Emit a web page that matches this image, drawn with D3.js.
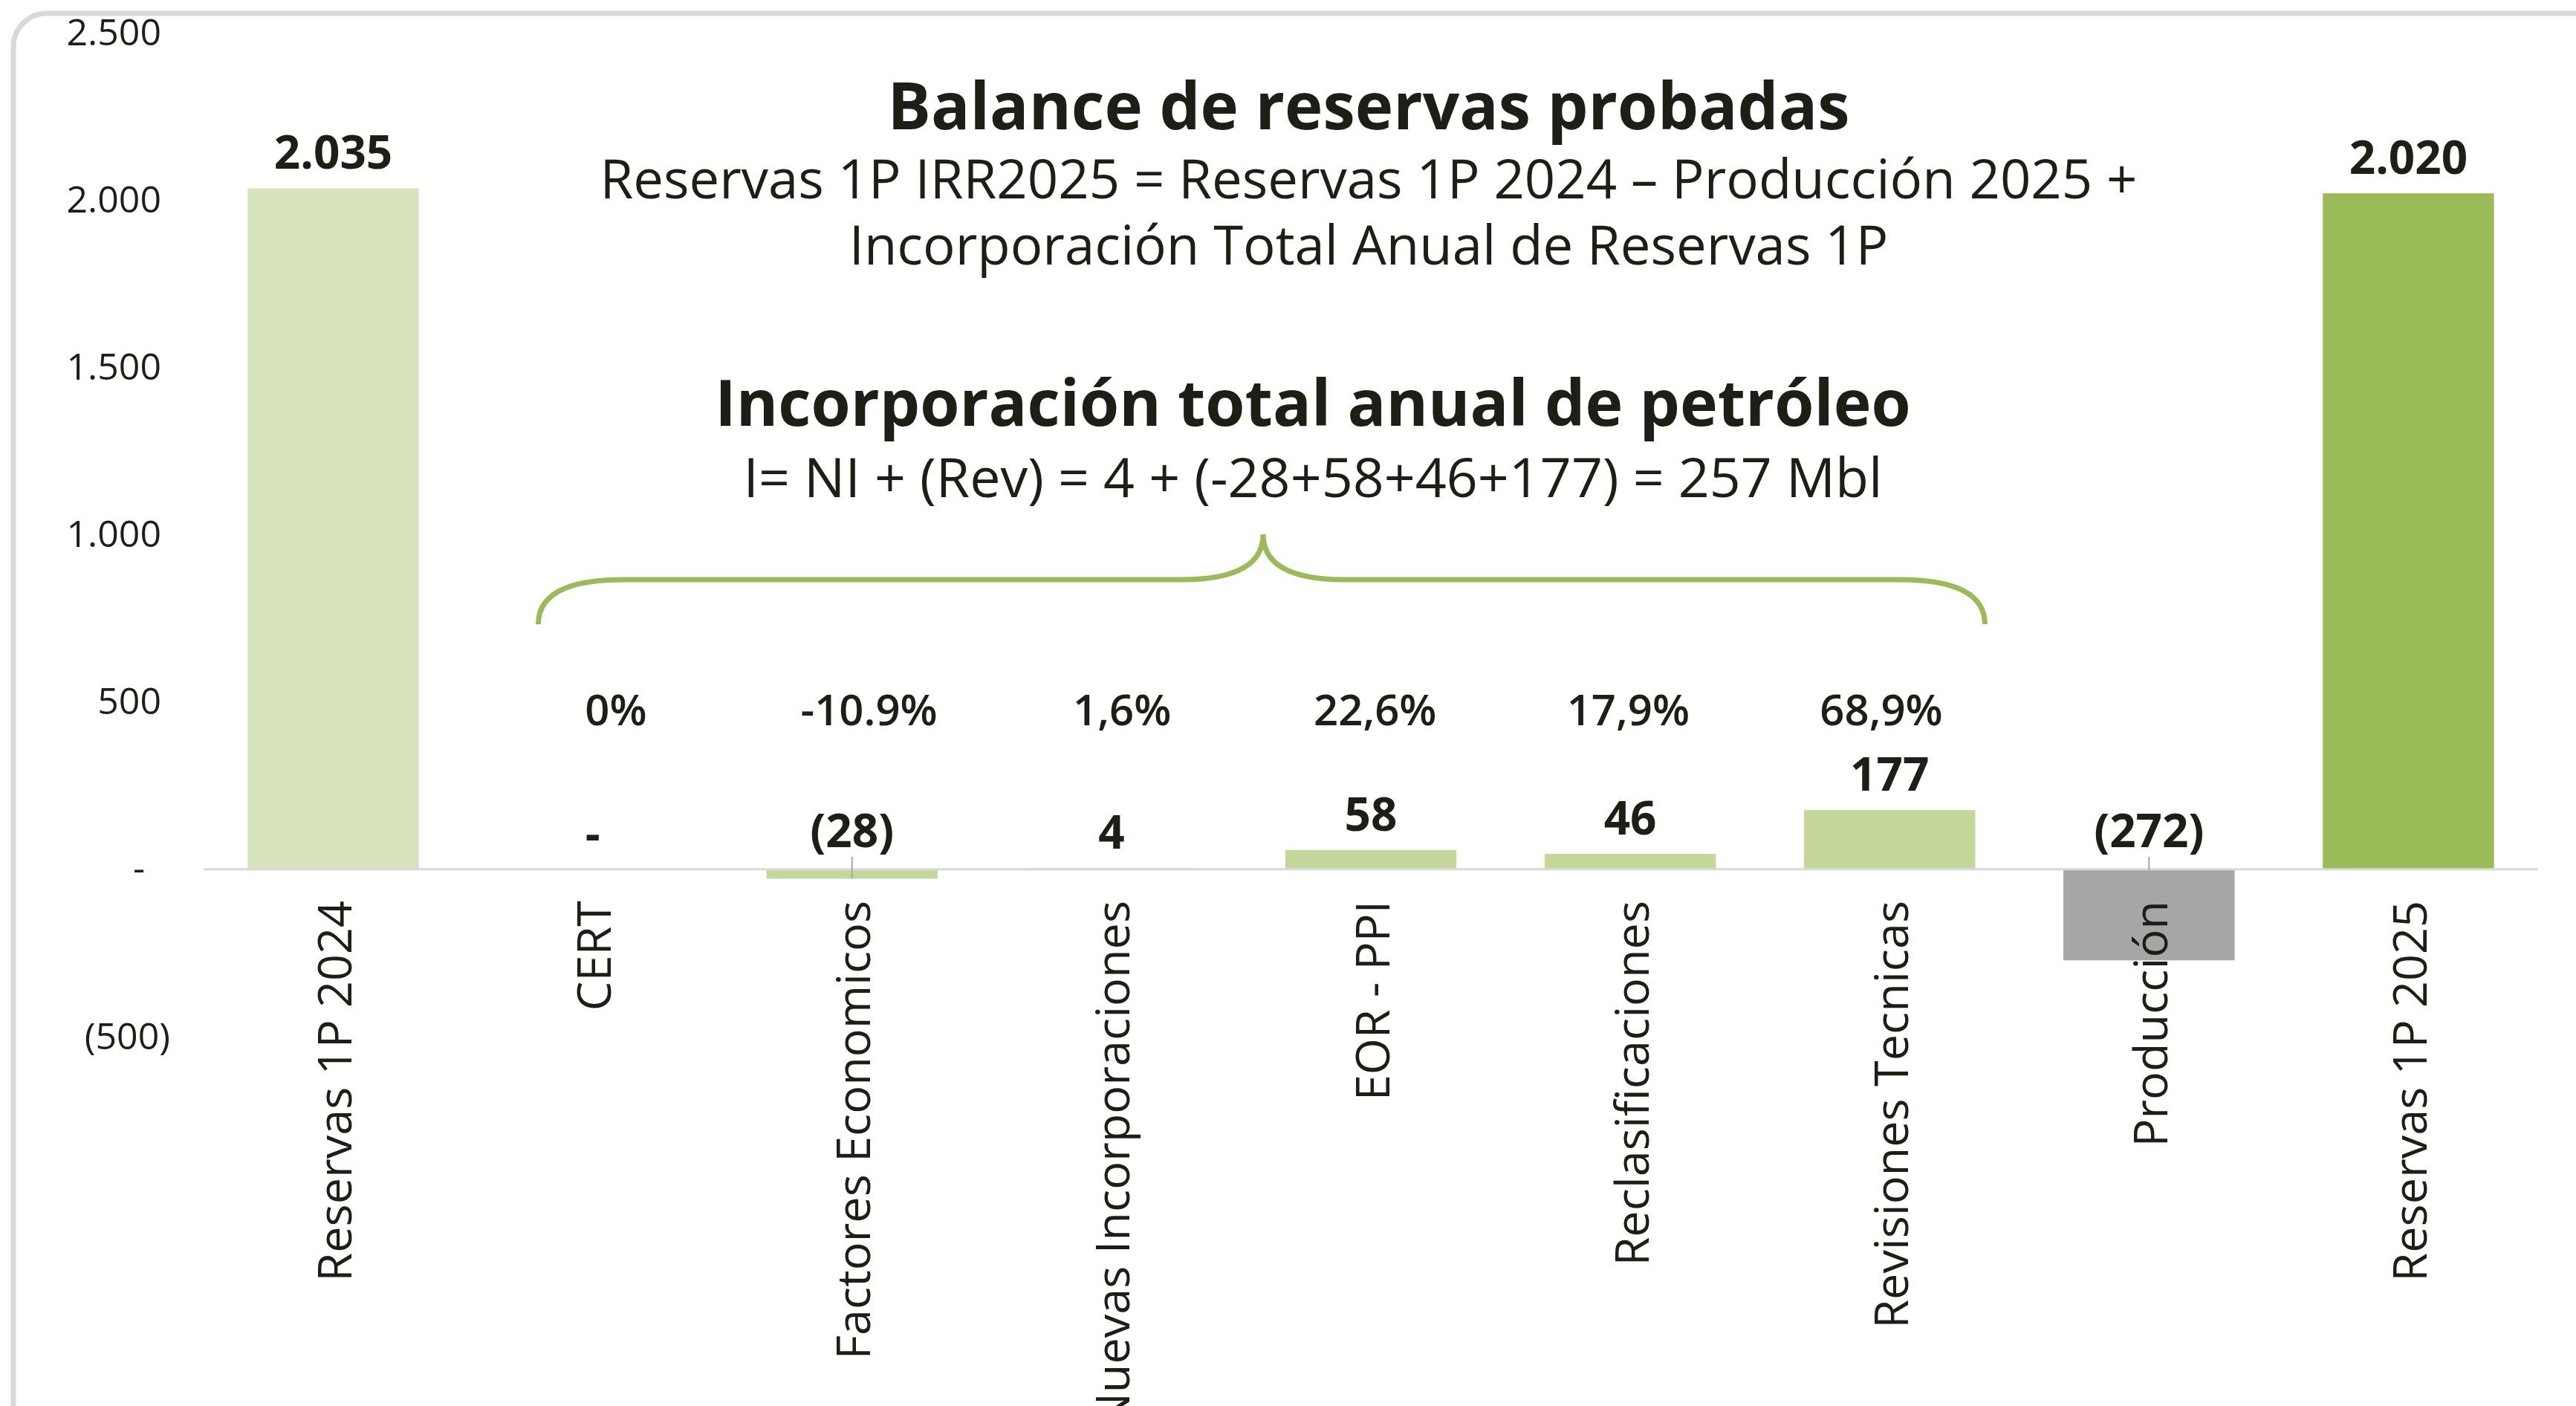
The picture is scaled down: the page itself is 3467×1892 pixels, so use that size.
<!DOCTYPE html>
<html>
<head>
<meta charset="utf-8">
<script src="https://cdn.jsdelivr.net/npm/d3@7"></script>
<style>
  body { margin: 0; background: #fff; }
  text { font-family: "Open Sans", "DejaVu Sans", sans-serif; fill: #1e1e16; }
</style>
</head>
<body>
<script>
var w = 3467;
var h = 1892;

// chart data
var categories = ["Reservas 1P 2024", "CERT", "Factores Economicos", "Nuevas Incorporaciones",
                  "EOR - PPI", "Reclasificaciones", "Revisiones Tecnicas", "Producción", "Reservas 1P 2025"];
var values = [2035, 0, -28, 4, 58, 46, 177, -272, 2020];
var barColors = ["#d7e4bd", "#c4d79b", "#c4d79b", "#c4d79b", "#c4d79b", "#c4d79b", "#c4d79b", "#a6a6a6", "#9bbb59"];
var shareLabels = ["0%", "-10.9%", "1,6%", "22,6%", "17,9%", "68,9%"];
var yTicks = [-500, 0, 500, 1000, 1500, 2000, 2500];

var title = "Balance de reservas probadas";
var subtitle = ["Reservas 1P IRR2025 = Reservas 1P 2024 \u2013 Producción 2025 +",
                "Incorporación Total Anual de Reservas 1P"];
var title2 = "Incorporación total anual de petróleo";
var formula = "I= NI + (Rev) = 4 + (-28+58+46+177) = 257 Mbl";

var svg = d3.select("body")
    .append("svg")
    .attr("width", w)
    .attr("height", h);

// outer frame, runs off the right and bottom
svg.append("rect")
    .attr("x", 18).attr("y", 18)
    .attr("width", w + 100).attr("height", h + 100)
    .attr("rx", 45)
    .attr("fill", "none")
    .attr("stroke", "#d9d9d9")
    .attr("stroke-width", 7);

var x = d3.scaleBand()
    .domain(categories)
    .range([274, 3416])
    .paddingInner(0.34)
    .paddingOuter(0.17);

var y = d3.scaleLinear()
    .domain([-500, 2500])
    .range([1395, 44]);

// the percentage row sits in its own text box, evenly spaced
var xs = d3.scalePoint()
    .domain(shareLabels)
    .range([829, 2532]);

var loc = d3.formatLocale({decimal: ",", thousands: ".", grouping: [3], currency: ["", ""]});
var thou = loc.format(",d");

var fmt = function(v) {
    if (v === 0) { return "-"; }
    if (v < 0) { return "(" + thou(-v) + ")"; }
    return thou(v);
}

// y axis, excel accounting style labels
var yAxis = svg.append("g")
    .attr("transform", "translate(217,0)")
    .call(d3.axisLeft(y).tickValues(yTicks).tickSize(0).tickPadding(0).tickFormat(fmt));
yAxis.select(".domain").remove();
yAxis.selectAll("text")
    .attr("font-size", 50)
    .attr("font-family", "Open Sans")
    .attr("fill", "#1e1e16")
    .attr("dx", function(d) { return d < 0 ? 12 : (d === 0 ? -22 : 0); });

// bars
svg.selectAll(".bar")
    .data(values)
    .enter()
    .append("rect")
    .attr("class", "bar")
    .attr("x", function(d, i) { return x(categories[i]); })
    .attr("width", x.bandwidth())
    .attr("y", function(d) { return y(Math.max(d, 0)); })
    .attr("height", function(d) { return Math.abs(y(d) - y(0)); })
    .attr("fill", function(d, i) { return barColors[i]; });

// zero line
svg.append("line")
    .attr("x1", x.range()[0]).attr("x2", x.range()[1])
    .attr("y1", y(0)).attr("y2", y(0))
    .attr("stroke", "#d9d9d9")
    .attr("stroke-width", 3);

// leader lines for the negative labels
svg.selectAll(".leader")
    .data(values.filter(function(d) { return d < 0; }))
    .enter()
    .append("line")
    .attr("x1", function(d) { return x(categories[values.indexOf(d)]) + x.bandwidth() / 2; })
    .attr("x2", function(d) { return x(categories[values.indexOf(d)]) + x.bandwidth() / 2; })
    .attr("y1", y(0) - 17)
    .attr("y2", function(d) { return Math.min(y(d), y(0) + 13); })
    .attr("stroke", "#a6a6a6")
    .attr("stroke-width", 2);

// value labels
svg.selectAll(".val")
    .data(values)
    .enter()
    .append("text")
    .attr("class", "val")
    .attr("x", function(d, i) { return x(categories[i]) + x.bandwidth() / 2; })
    .attr("y", function(d) { return y(Math.max(d, 0)) - (d < 0 ? 30 : 26); })
    .attr("text-anchor", "middle")
    .attr("font-size", 62)
    .attr("font-weight", "bold")
    .text(fmt);

// share of the annual incorporation
svg.selectAll(".share")
    .data(shareLabels)
    .enter()
    .append("text")
    .attr("class", "share")
    .attr("x", function(d) { return xs(d); })
    .attr("y", 976)
    .attr("text-anchor", "middle")
    .attr("font-size", 58)
    .attr("font-weight", 600)
    .text(function(d) { return d; });

// category labels
svg.selectAll(".cat")
    .data(categories)
    .enter()
    .append("text")
    .attr("class", "cat")
    .attr("transform", function(d) {
        return "translate(" + (x(d) + x.bandwidth() / 2) + ",1212) rotate(-90)";
    })
    .attr("text-anchor", "end")
    .attr("dominant-baseline", "central")
    .attr("font-size", 63)
    .text(function(d) { return d; });

// titles
var cx1 = 1842;
var cx2 = 1767;
svg.append("text")
    .attr("x", cx1).attr("y", 174)
    .attr("text-anchor", "middle")
    .attr("font-size", 87)
    .attr("font-weight", "bold")
    .text(title);

svg.selectAll(".sub")
    .data(subtitle)
    .enter()
    .append("text")
    .attr("class", "sub")
    .attr("x", cx1)
    .attr("y", function(d, i) { return 267 + i * 89; })
    .attr("text-anchor", "middle")
    .attr("font-size", 72.5)
    .text(function(d) { return d; });

svg.append("text")
    .attr("x", cx2).attr("y", 573)
    .attr("text-anchor", "middle")
    .attr("font-size", 86)
    .attr("font-weight", "bold")
    .text(title2);

svg.append("text")
    .attr("x", cx2).attr("y", 669)
    .attr("text-anchor", "middle")
    .attr("font-size", 73.5)
    .text(formula);

// curly brace over the incorporation bars
var bl = x("CERT") + 42;
var br = x("Revisiones Tecnicas") + x.bandwidth() + 13;
var tip = 1700;
var by = 780;
var brace = d3.path();
brace.moveTo(bl, 840);
brace.quadraticCurveTo(bl, by, bl + 115, by);
brace.lineTo(tip - 110, by);
brace.quadraticCurveTo(tip, by, tip, 719);
brace.quadraticCurveTo(tip, by, tip + 110, by);
brace.lineTo(br - 115, by);
brace.quadraticCurveTo(br, by, br, 840);

svg.append("path")
    .attr("d", brace.toString())
    .attr("fill", "none")
    .attr("stroke", "#9bbb59")
    .attr("stroke-width", 7);
</script>
</body>
</html>
